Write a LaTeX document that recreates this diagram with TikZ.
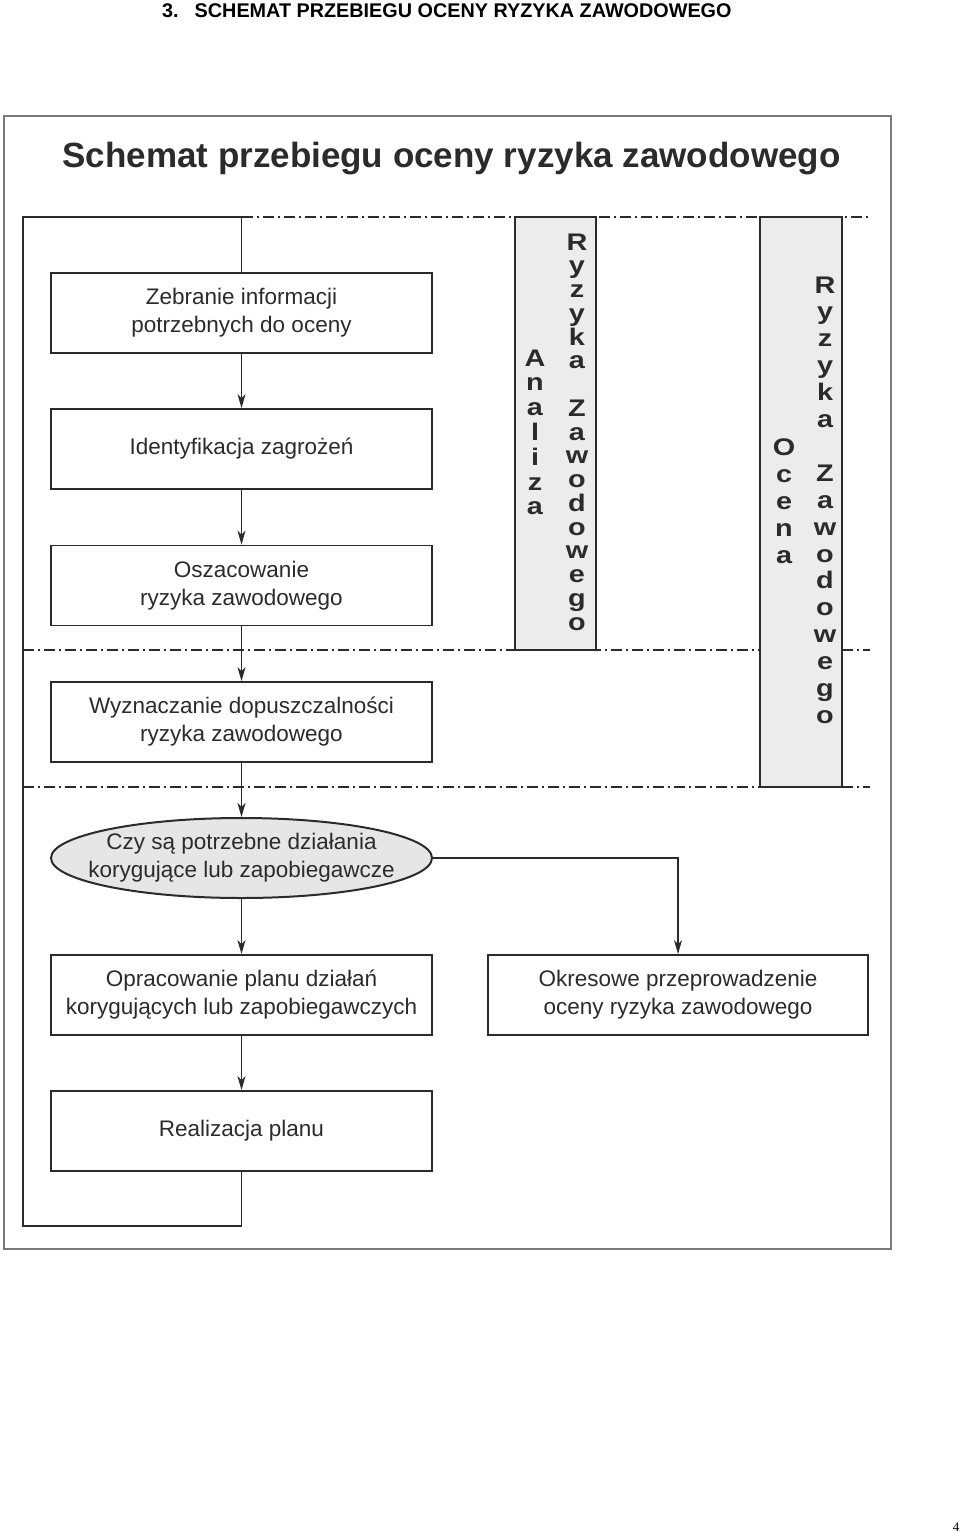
\documentclass[tikz,border=0pt]{standalone}
\usepackage{fontspec}
\usepackage{graphicx}
\setmainfont{Liberation Sans}
\newfontfamily\pgserif{Liberation Serif}
\usetikzlibrary{arrows.meta,shapes.geometric}
\definecolor{ink}{HTML}{2B2B2B}
\definecolor{lanefill}{HTML}{ECECEC}
\definecolor{ellfill}{HTML}{E6E6E6}
\definecolor{framegray}{HTML}{7A7A7A}
\begin{document}
\begin{tikzpicture}[x=1pt,y=-1pt,
  stepbox/.style={draw=ink, line width=1.8pt, fill=white, minimum width=381pt, minimum height=80pt,
    inner sep=0pt, align=center, font=\fontsize{22.5}{28}\selectfont, text=ink},
  txt/.style={inner sep=0pt, align=center, font=\fontsize{22.5}{28}\selectfont, text=ink},
  lanebox/.style={draw=ink, line width=1.8pt, fill=lanefill, inner sep=0pt},
  laneletter/.style={inner sep=0pt, anchor=base, font=\bfseries\fontsize{24}{24}\selectfont, text=ink},
  dashdot/.style={draw=ink, line width=1.6pt, dash pattern=on 11pt off 4pt on 2pt off 4pt},
  conn/.style={draw=ink, line width=1.5pt},
  arr/.style={conn, -{Stealth[length=14pt,width=8pt,inset=4pt]}}
]
\useasboundingbox (0,0) rectangle (960,1533);
\fill[white] (0,0) rectangle (960,1533);

% header and page number
\node[anchor=base west, inner sep=0pt, font=\bfseries\fontsize{19.8}{19.8}\selectfont, text=black] (hdr) at (162,18)
  {3.\hspace{16pt}SCHEMAT PRZEBIEGU OCENY RYZYKA ZAWODOWEGO};
\node[anchor=base, inner sep=0pt, font=\pgserif\fontsize{13}{13}\selectfont] (pg) at (956,1531) {4};

% outer frame
\draw[framegray, line width=2pt] (4,116) rectangle (891,1249);

% title
\node[anchor=base, inner sep=0pt, font=\bfseries\fontsize{35}{35}\selectfont, text=ink] (title) at (451.5,168)
  {Schemat przebiegu oceny ryzyka zawodowego};

% separator lines
\draw[dashdot] (241.5,217) -- (870,217);
\draw[dashdot] (23,650) -- (870,650);
\draw[dashdot] (23,787) -- (870,787);

% lanes
\node[lanebox, minimum width=81pt, minimum height=433pt] (lanea) at (555.5,433.5) {};
\node[lanebox, minimum width=82pt, minimum height=570pt] (laneo) at (801,502) {};

\foreach \ch [count=\i from 0] in {A,n,a,l,i,z,a}
  \node[laneletter] (an\i) at (535,{366+\i*24.8}) {\scalebox{1.2}[1]{\ch}};
\foreach \ch/\k in {R/0,y/1,z/2,y/3,k/4,a/5,Z/7,a/8,w/9,o/10,d/11,o/12,w/13,e/14,g/15,o/16}
  \node[laneletter] (ra\k) at (577,{250+\k*23.75}) {\scalebox{1.2}[1]{\ch}};
\foreach \ch [count=\i from 0] in {O,c,e,n,a}
  \node[laneletter] (oc\i) at (784,{455+\i*27}) {\scalebox{1.2}[1]{\ch}};
\foreach \ch/\k in {R/0,y/1,z/2,y/3,k/4,a/5,Z/7,a/8,w/9,o/10,d/11,o/12,w/13,e/14,g/15,o/16}
  \node[laneletter] (ro\k) at (825,{293+\k*26.9}) {\scalebox{1.2}[1]{\ch}};

% steps
\node[stepbox] (zeb) at (241.5,313) {Zebranie informacji\\potrzebnych do oceny};
\node[stepbox] (ide) at (241.5,449) {Identyfikacja zagrożeń};
\node[stepbox] (osz) at (241.5,585.5) {Oszacowanie\\ryzyka zawodowego};
\node[stepbox] (wyz) at (241.5,722) {Wyznaczanie dopuszczalności\\ryzyka zawodowego};
\node[ellipse, draw=ink, line width=2pt, fill=ellfill, minimum width=381pt, minimum height=80pt, inner sep=0pt] (ell) at (241.5,858) {};
\node[txt] (elltxt) at (ell.center) {Czy są potrzebne działania\\korygujące lub zapobiegawcze};
\node[stepbox] (opr) at (241.5,995) {Opracowanie planu działań\\korygujących lub zapobiegawczych};
\node[stepbox] (rea) at (241.5,1131) {Realizacja planu};
\node[stepbox, minimum width=380pt] (okr) at (678,995) {Okresowe przeprowadzenie\\oceny ryzyka zawodowego};

% loop-back line
\coordinate (lbr) at (241.5,1226);
\coordinate (lbl) at (23,1226);
\coordinate (ltl) at (23,217);
\coordinate (ltr) at (241.5,217);
\draw[conn] (rea.south) -- (lbr) -- (lbl) -- (ltl) -- (ltr) -- (zeb.north);

% arrows
\draw[arr] (zeb.south) -- (ide.north);
\draw[arr] (ide.south) -- (osz.north);
\draw[arr] (osz.south) -- (wyz.north);
\draw[arr] (wyz.south) -- (ell.north);
\draw[arr] (ell.south) -- (opr.north);
\draw[arr] (opr.south) -- (rea.north);
\draw[arr] (ell.east) -| (okr.north);
\end{tikzpicture}
\end{document}
